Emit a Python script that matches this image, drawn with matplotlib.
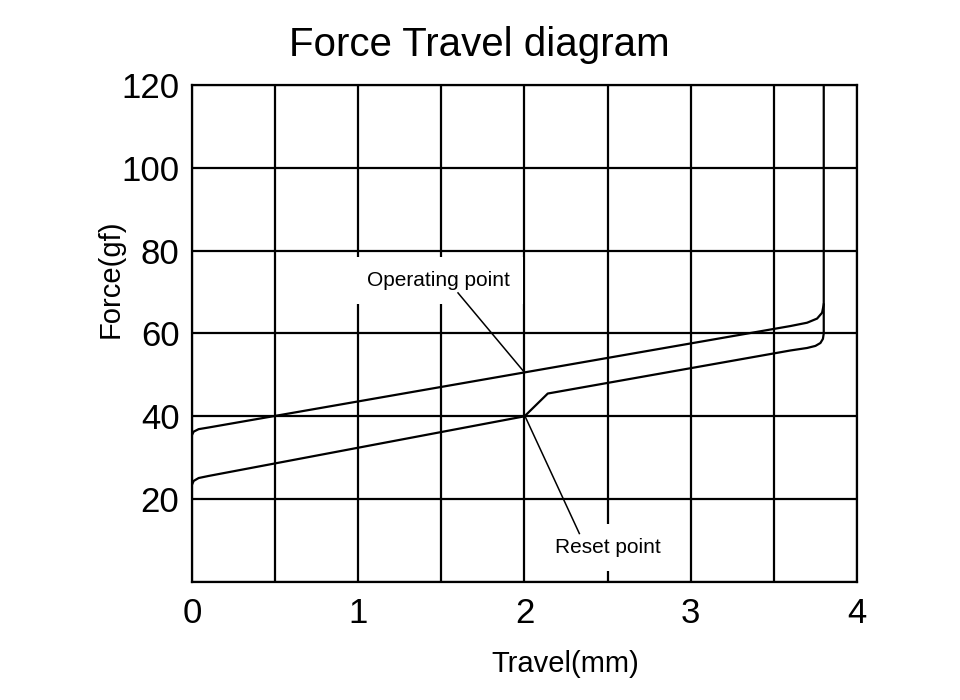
import matplotlib

matplotlib.use("Agg")
import matplotlib.pyplot as plt
from matplotlib.ticker import MultipleLocator

plt.rcParams["font.family"] = ["Liberation Sans", "DejaVu Sans"]

# operating (press) curve, mm / gf
PRESS_X = [0.0, 0.01, 0.04, 0.1, 3.6, 3.7, 3.76, 3.79, 3.8, 3.8]
PRESS_Y = [35.5, 36.3, 36.9, 37.3, 61.8, 62.6, 63.6, 65.0, 67.0, 120.0]

# return (reset) curve
RESET_X = [0.0, 0.01, 0.04, 0.1, 2.0, 2.14, 3.6, 3.7, 3.75, 3.78, 3.795, 3.8, 3.8]
RESET_Y = [23.5, 24.4, 25.1, 25.6, 40.0, 45.5, 55.9, 56.5, 57.0, 57.7, 58.7, 60.0, 67.0]

X_TICKS = [0, 1, 2, 3, 4]
Y_TICKS = [20, 40, 60, 80, 100, 120]

# callouts: (text, text pos, leader start, leader end)
CALLOUTS = [
    ("Operating point", (1.48, 72.7), (1.60, 69.8), (2.0, 50.6)),
    ("Reset point", (2.50, 8.3), (2.33, 11.7), (2.0, 40.3)),
]

fig = plt.figure(figsize=(9.6, 7), dpi=100)
ax = fig.add_axes([0.2, 0.1686, 0.6927, 0.71])

ax.set_xlim(0, 4)
ax.set_ylim(0, 120)
ax.set_xticks(X_TICKS)
ax.set_yticks(Y_TICKS)
ax.xaxis.set_minor_locator(MultipleLocator(0.5))
ax.yaxis.set_minor_locator(MultipleLocator(20))
ax.tick_params(axis="both", which="both", length=0, labelsize=25)
ax.tick_params(axis="x", pad=11)
ax.tick_params(axis="y", pad=9)
ax.grid(True, which="both", color="black", linewidth=1.6)
ax.set_axisbelow(True)
for s in ax.spines.values():
    s.set_linewidth(1.6)
    s.set_color("black")

ax.plot(PRESS_X, PRESS_Y, color="black", linewidth=1.6, zorder=3)
ax.plot(RESET_X, RESET_Y, color="black", linewidth=1.6, zorder=3)

for label, tpos, p0, p1 in CALLOUTS:
    ax.text(tpos[0], tpos[1], label, fontsize=15, ha="center", va="center",
            zorder=4, bbox=dict(facecolor="white", edgecolor="none", pad=10))
    ax.plot([p0[0], p1[0]], [p0[1], p1[1]], color="black", linewidth=1.1, zorder=5)

fig.text(0.499, 0.936, "Force Travel diagram", fontsize=29, ha="center", va="center")
fig.text(0.589, 0.052, "Travel(mm)", fontsize=21, ha="center", va="center")
fig.text(0.115, 0.602, "Force(gf)", fontsize=21, ha="center", va="center", rotation=90)

fig.savefig("out.png", dpi=100, facecolor="white")
